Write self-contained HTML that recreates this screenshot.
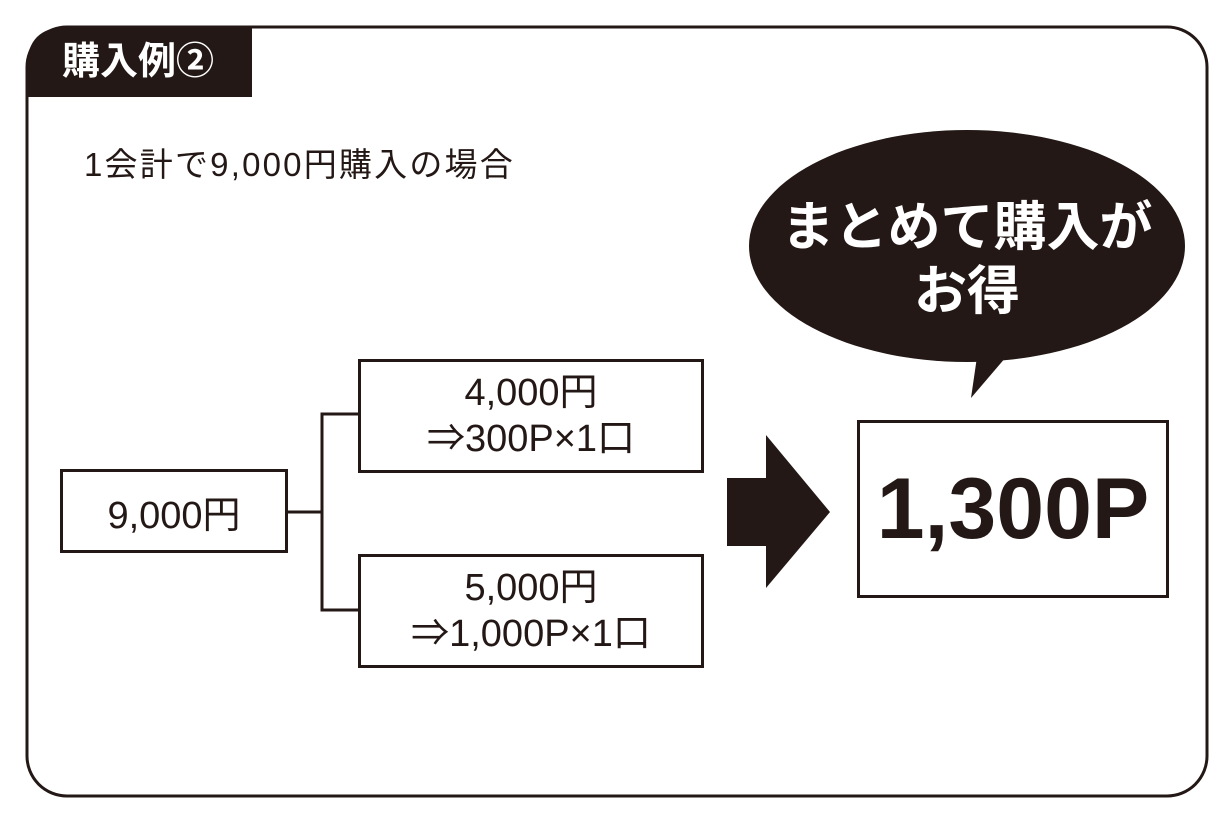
<!DOCTYPE html>
<html><head><meta charset="utf-8"><style>
body{margin:0;width:1230px;height:820px;background:#fff;overflow:hidden;font-family:"Liberation Sans","Noto Sans CJK JP",sans-serif;color:#231815}
.a{position:absolute}
.box{position:absolute;border:3px solid #231815;box-sizing:border-box;display:flex;flex-direction:column;align-items:center;justify-content:center;text-align:center}
</style></head><body>
<svg class="a" style="left:0;top:0" width="1230" height="820">
<path d="M27,67 Q27,27 67,27 L252,27 L252,97 L27,97 Z" fill="#231815"/>
<rect x="27" y="27" width="1180" height="769" rx="40" fill="none" stroke="#231815" stroke-width="3"/>
<ellipse cx="967" cy="246" rx="218" ry="116" fill="#231815"/>
<polygon points="978,350 971,398 1012,350" fill="#231815"/>
<polyline points="287,512 322,512" fill="none" stroke="#231815" stroke-width="3"/>
<polyline points="359,414 322,414 322,610 359,610" fill="none" stroke="#231815" stroke-width="3"/>
<rect x="727" y="478" width="40" height="68" fill="#231815"/>
<polygon points="766,435 830,512 766,588" fill="#231815"/>
</svg>
<div class="a" style="left:62px;top:38px;font-size:38px;font-weight:bold;color:#fff;line-height:48px">購入例②</div>
<div class="a" style="left:84px;top:144px;font-size:33px;line-height:42px;letter-spacing:2.2px">1会計で9,000円購入の場合</div>
<div class="a" style="left:752px;top:196px;width:430px;text-align:center;color:#fff;font-weight:bold;font-size:53px;line-height:64px">まとめて購入が<br>お得</div>
<div class="box" style="left:60px;top:469px;width:228px;height:84px;font-size:38px">9,000円</div>
<div class="box" style="left:358px;top:359px;width:346px;height:114px;font-size:38px;line-height:46px">4,000円<br>⇒300P×1口</div>
<div class="box" style="left:358px;top:554px;width:346px;height:114px;font-size:38px;line-height:46px">5,000円<br>⇒1,000P×1口</div>
<div class="box" style="left:857px;top:420px;width:312px;height:178px;font-size:86px;font-weight:bold">1,300P</div>
</body></html>
